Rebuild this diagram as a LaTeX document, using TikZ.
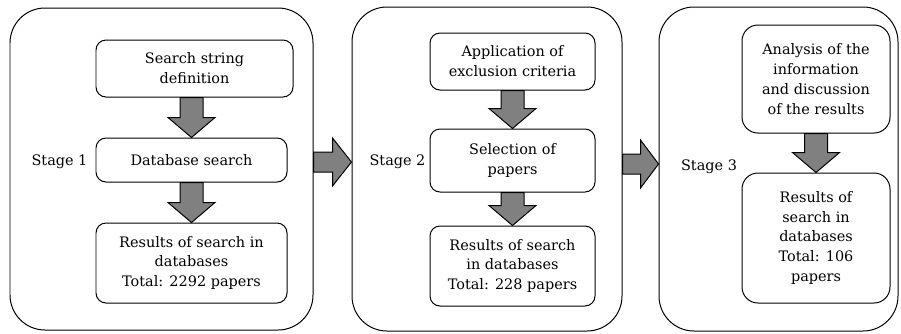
\documentclass[tikz,border=0pt]{standalone}
\usepackage{fontspec}
\setmainfont{DejaVu Serif}
\usetikzlibrary{calc}
\definecolor{arrowgray}{RGB}{128,128,128}
\tikzset{
  stagebox/.style={draw=black, line width=1pt, rounded corners=35bp, minimum width=#1},
  stepbox/.style={draw=black, line width=1pt, rounded corners=10bp, align=center, inner sep=0pt},
  roundbox/.style={draw=black, line width=1pt, rounded corners=16bp, align=center, inner sep=0pt},
  blk/.style={draw=black, fill=arrowgray, line width=1pt, line join=miter},
  lbl/.style={inner sep=0pt}
}
% vertical block arrow: from bottom of #1 to top of #2, head length #3
\newcommand\VArr[3]{%
  \draw[blk] let \p1=(#1.south), \p2=(#2.north) in
    (\x2-11.5bp,\y1) -- (\x2+11.5bp,\y1) -- (\x2+11.5bp,\y2+#3) -- (\x2+23.5bp,\y2+#3)
    -- (\x2,\y2) -- (\x2-23.5bp,\y2+#3) -- (\x2-11.5bp,\y2+#3) -- cycle;}
% horizontal block arrow: from east of #1 to west of #2, vertical offset #3, head length #4
\newcommand\HArr[4]{%
  \draw[blk] let \p1=(#1.east), \p2=(#2.west) in
    (\x1,\y1+#3+10bp) -- (\x2-#4,\y1+#3+10bp) -- (\x2-#4,\y1+#3+24bp) -- (\x2,\y1+#3)
    -- (\x2-#4,\y1+#3-24bp) -- (\x2-#4,\y1+#3-10bp) -- (\x1,\y1+#3-10bp) -- cycle;}
\begin{document}
\begin{tikzpicture}[x=1bp,y=-1bp,font=\fontsize{14.5}{20}\selectfont]
\useasboundingbox (0,0) rectangle (901,333);
% Stage 1
\node[stagebox=303bp, minimum height=322bp] (s1) at (161.5,169) {};
\node[stepbox, minimum width=197bp, minimum height=57bp] (a1) at (194.5,68.5) {Search string\\definition};
\node[stepbox, minimum width=191bp, minimum height=44bp] (b1) at (191.5,160) {Database search};
\node[stepbox, minimum width=191bp, minimum height=80bp] (c1) at (191.5,263) {Results of search in\\databases\\Total: 2292 papers};
\node[lbl] (l1) at (59.5,162) {Stage 1};
% Stage 2
\node[stagebox=270bp, minimum height=324bp] (s2) at (487,169) {};
\node[stepbox, minimum width=165bp, minimum height=57bp] (a2) at (512.5,61.5) {Application of\\exclusion criteria};
\node[stepbox, minimum width=165bp, minimum height=63bp] (b2) at (512.5,160.5) {Selection of\\papers};
\node[stepbox, minimum width=165bp, minimum height=80bp] (c2) at (512.5,266) {Results of search\\in databases\\Total: 228 papers};
\node[lbl] (l2) at (397.5,162) {Stage 2};
% Stage 3
\node[stagebox=239bp, minimum height=324bp] (s3) at (778.5,169) {};
\node[roundbox, minimum width=148bp, minimum height=108bp] (a3) at (816,79) {Analysis of the\\information\\and discussion\\of the results};
\node[roundbox, minimum width=148bp, minimum height=130bp] (b3) at (816,238) {Results of\\search in\\databases\\Total: 106\\papers};
\node[lbl] (l3) at (709,167) {Stage 3};
% arrows
\VArr{a1}{b1}{20bp}
\VArr{b1}{c1}{20bp}
\VArr{a2}{b2}{20bp}
\VArr{b2}{c2}{20bp}
\VArr{a3}{b3}{20bp}
\HArr{s1}{s2}{7bp}{19bp}
\HArr{s2}{s3}{5bp}{18bp}
\end{tikzpicture}
\end{document}
